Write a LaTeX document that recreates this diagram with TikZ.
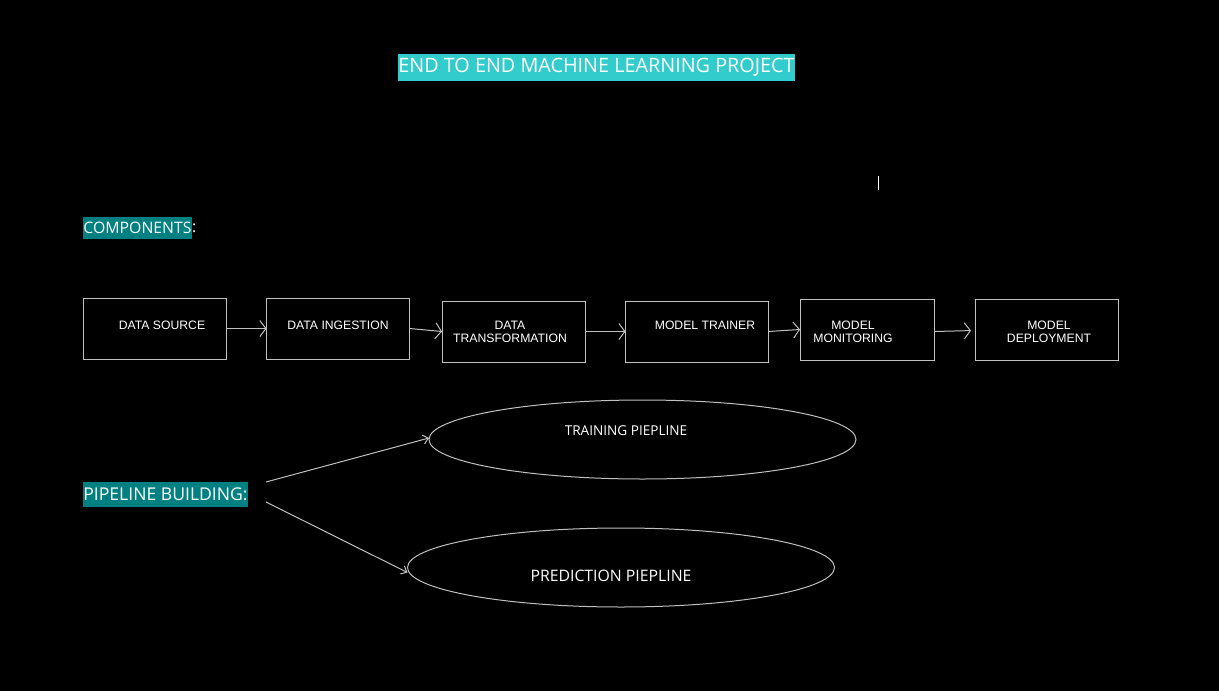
\documentclass[tikz,border=0pt]{standalone}
\usepackage{fontspec}
\setmainfont{Liberation Sans}
\newfontfamily\segoe{Open Sans}
\usetikzlibrary{arrows.meta,shapes.geometric}
\definecolor{cyanbg}{RGB}{51,204,204}
\definecolor{tealbg}{RGB}{0,128,128}
\definecolor{edge}{RGB}{192,192,192}
\tikzset{
  compbox/.style={draw=edge, line width=1pt, minimum width=143pt, minimum height=61pt, inner sep=0pt, outer sep=0pt},
  boxlabel/.style={text=white, font=\fontsize{12.2}{13}\selectfont, align=center, inner sep=0pt},
  flow/.style={draw=edge, line width=1pt, -{Straight Barb[length=6pt,width=16pt,line width=1pt]}},
  pipe/.style={draw=edge, line width=1pt, -{Straight Barb[length=5pt,width=9pt,line width=1pt]}},
  pipeellipse/.style={ellipse, draw=edge, line width=1pt, minimum width=427pt, minimum height=79pt, inner sep=0pt, outer sep=0pt},
  heading/.style={text=white, inner sep=0pt},
}
\begin{document}
\begin{tikzpicture}[x=1pt,y=-1pt]
\fill[black] (0,0) rectangle (1219,691);
\useasboundingbox (0,0) rectangle (1219,691);

% title
\fill[cyanbg] (398,54) rectangle (795,81);
\node[heading, font=\segoe\fontsize{19.8}{22}\selectfont] (title) at (596.5,67.5) {END TO END MACHINE LEARNING PROJECT};

% cursor mark
\draw[white, line width=1pt] (878,176) -- (878,190);

% components heading
\fill[tealbg] (83,217) rectangle (192,239);
\node[heading, font=\segoe\fontsize{15.8}{18}\selectfont] (comp) at (137.5,228.3) {COMPONENTS};
\node[heading, font=\segoe\fontsize{15.8}{18}\selectfont, anchor=west] (colon) at (192,228.3) {:};

% component boxes
\node[compbox] (b1) at (154.5,328.5) {};
\node[compbox] (b2) at (338,328.5) {};
\node[compbox] (b3) at (513.5,331.5) {};
\node[compbox] (b4) at (697,331.5) {};
\node[compbox, minimum width=134pt] (b5) at (867,329.5) {};
\node[compbox] (b6) at (1046.5,329.5) {};

\node[boxlabel] (t1) at (162,325) {DATA SOURCE};
\node[boxlabel] (t2) at (338,325) {DATA INGESTION};
\node[boxlabel] (t3) at (510,331.5) {DATA\\TRANSFORMATION};
\node[boxlabel] (t4) at (705,325) {MODEL TRAINER};
\node[boxlabel] (t5) at (853,331.5) {MODEL\\MONITORING};
\node[boxlabel] (t6) at (1049,332) {MODEL\\DEPLOYMENT};

\draw[flow] (b1.east) -- (b2.west);
\draw[flow] (b2.east) -- (b3.west);
\draw[flow] (b3.east) -- (b4.west);
\draw[flow] (b4.east) -- (b5.west);
\draw[flow, shorten >=4pt] ([yshift=-2pt]b5.east) -- ([yshift=-1pt]b6.west);

% pipeline building
\fill[tealbg] (83,482) rectangle (248,507);
\node[heading, font=\segoe\fontsize{17.6}{21}\selectfont] (pipe) at (165.5,494.3) {PIPELINE BUILDING:};

\node[pipeellipse] (e1) at (642.5,439.5) {};
\node[pipeellipse] (e2) at (621,567.5) {};
\node[heading, font=\segoe\fontsize{13.6}{16}\selectfont] (l1) at (626,431) {TRAINING PIEPLINE};
\node[heading, font=\segoe\fontsize{15.8}{19}\selectfont] (l2) at (611,576) {PREDICTION PIEPLINE};

\coordinate (s1) at (266,482);
\coordinate (s2) at (266,502);
\draw[pipe] (s1) -- ([yshift=1.5pt]e1.west);
\draw[pipe] (s2) -- ([yshift=-5pt]e2.west);
\end{tikzpicture}
\end{document}
